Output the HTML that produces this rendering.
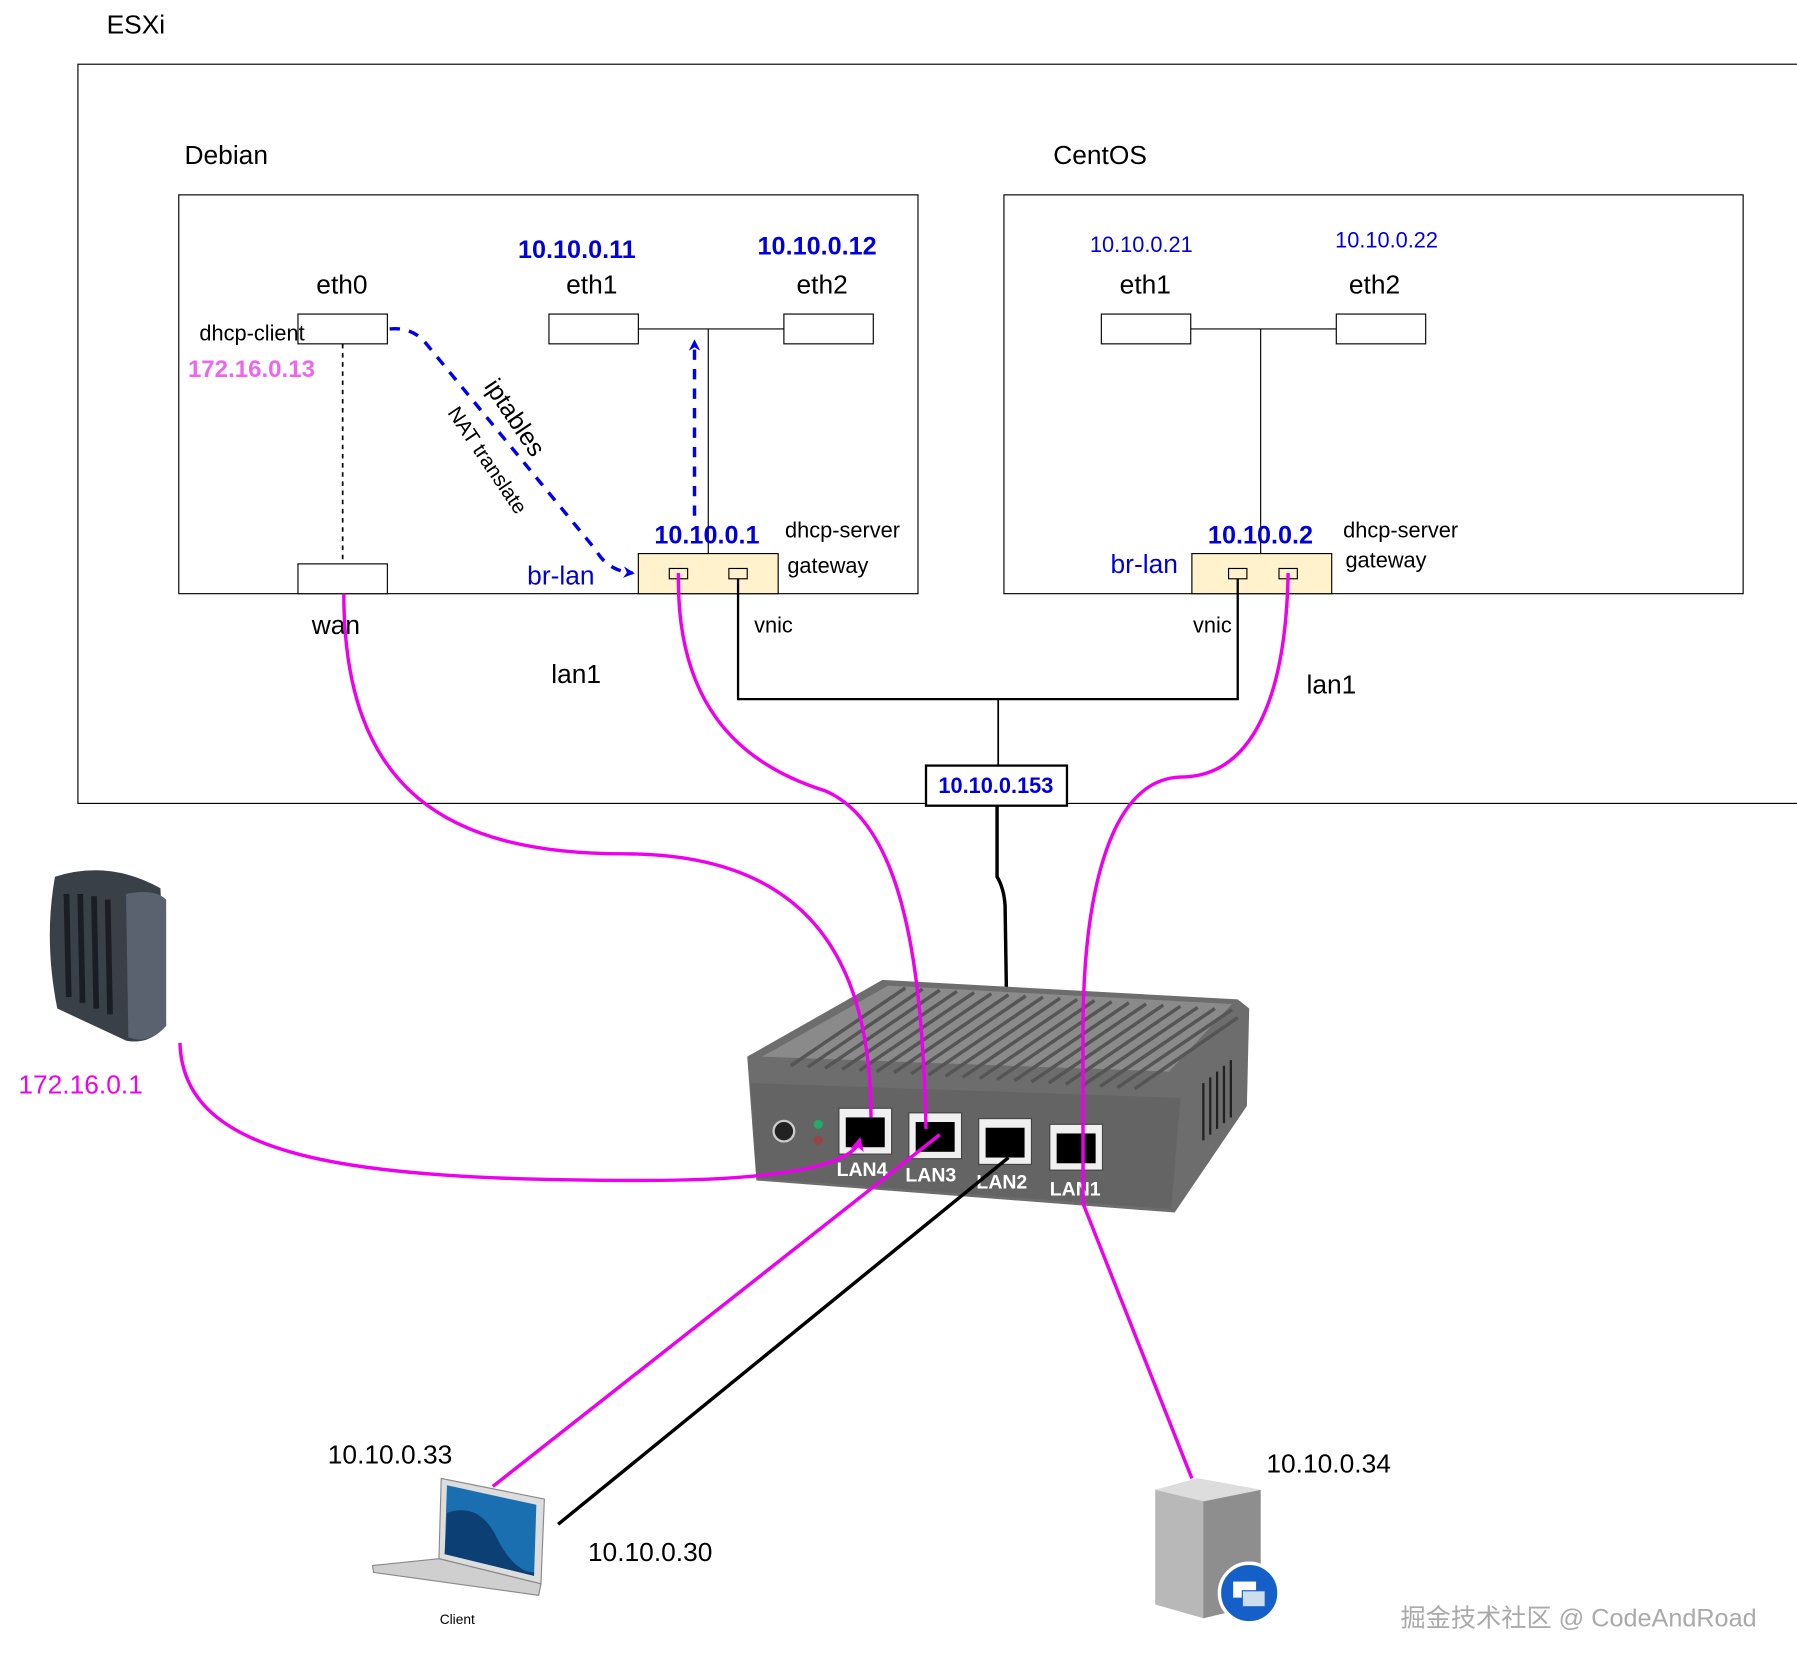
<!DOCTYPE html>
<html><head><meta charset="utf-8"><style>html,body{margin:0;padding:0;background:#fff}svg{display:block}</style></head><body>
<svg width="1797" height="1671" viewBox="0 0 1568 1458" xmlns="http://www.w3.org/2000/svg" font-family="Liberation Sans, Noto Sans CJK SC, sans-serif">
<defs>
<marker id="ab" markerWidth="10" markerHeight="10" refX="8" refY="5" orient="auto" markerUnits="userSpaceOnUse"><path d="M0,0 L10,5 L0,10 L3,5z" fill="#0000ee"/></marker>
<marker id="am" markerWidth="12" markerHeight="12" refX="9" refY="6" orient="auto" markerUnits="userSpaceOnUse"><path d="M0,0 L12,6 L0,12 L3,6z" fill="#ee00ee"/></marker>
</defs>
<text x="93" y="29" font-size="23">ESXi</text>
<rect x="68" y="56" width="1520" height="645" fill="none" stroke="#000" stroke-width="1"/>
<text x="161" y="143" font-size="23">Debian</text>
<text x="919" y="143" font-size="23">CentOS</text>
<rect x="156" y="170" width="645" height="348" fill="none" stroke="#000"/>
<rect x="876" y="170" width="645" height="348" fill="none" stroke="#000"/>
<!-- Debian -->
<text x="452" y="225" font-size="22" font-weight="bold" fill="#0000dd">10.10.0.11</text>
<text x="661" y="222" font-size="22" font-weight="bold" fill="#0000dd">10.10.0.12</text>
<text x="276" y="256" font-size="23">eth0</text>
<text x="494" y="256" font-size="23">eth1</text>
<text x="695" y="256" font-size="23">eth2</text>
<rect x="260" y="274" width="78" height="26" fill="#fff" stroke="#000"/>
<text x="174" y="297" font-size="19">dhcp-client</text>
<text x="164" y="329" font-size="21" font-weight="bold" fill="#ee66ee">172.16.0.13</text>
<rect x="479" y="274" width="78" height="26" fill="#fff" stroke="#000"/>
<rect x="684" y="274" width="78" height="26" fill="#fff" stroke="#000"/>
<line x1="557" y1="287" x2="684" y2="287" stroke="#000"/>
<line x1="618" y1="287" x2="618" y2="483" stroke="#000"/>
<line x1="299" y1="300" x2="299" y2="492" stroke="#000" stroke-dasharray="4,4" stroke-width="1.5"/>
<rect x="260" y="492" width="78" height="26" fill="#fff" stroke="#000"/>
<text x="272" y="553" font-size="23">wan</text>
<rect x="557" y="483" width="122" height="35" fill="#fff2cc" stroke="#000"/>
<rect x="584" y="496" width="16" height="9" fill="none" stroke="#000"/>
<rect x="636" y="496" width="16" height="9" fill="none" stroke="#000"/>
<text x="571" y="474" font-size="22" font-weight="bold" fill="#0000dd">10.10.0.1</text>
<text x="685" y="469" font-size="19">dhcp-server</text>
<text x="687" y="500" font-size="19">gateway</text>
<text x="460" y="510" font-size="23" fill="#0000dd">br-lan</text>
<text x="658" y="552" font-size="19">vnic</text>
<text x="481" y="596" font-size="23">lan1</text>
<path d="M340,287 Q360,285 372,300 L520,480 Q530,498 552,500" fill="none" stroke="#0000ee" stroke-width="3" stroke-dasharray="9,8" marker-end="url(#ab)"/>
<line x1="606" y1="450" x2="606" y2="298" stroke="#0000ee" stroke-width="3" stroke-dasharray="9,8" marker-end="url(#ab)"/>
<text transform="translate(422,337) rotate(56)" font-size="22">iptables</text>
<text transform="translate(390,360) rotate(56)" font-size="18">NAT translate</text>
<!-- CentOS -->
<text x="951" y="220" font-size="19" fill="#0000dd">10.10.0.21</text>
<text x="1165" y="216" font-size="19" fill="#0000dd">10.10.0.22</text>
<text x="977" y="256" font-size="23">eth1</text>
<text x="1177" y="256" font-size="23">eth2</text>
<rect x="961" y="274" width="78" height="26" fill="#fff" stroke="#000"/>
<rect x="1166" y="274" width="78" height="26" fill="#fff" stroke="#000"/>
<line x1="1039" y1="287" x2="1166" y2="287" stroke="#000"/>
<line x1="1100" y1="287" x2="1100" y2="483" stroke="#000"/>
<rect x="1040" y="483" width="122" height="35" fill="#fff2cc" stroke="#000"/>
<rect x="1072" y="496" width="16" height="9" fill="none" stroke="#000"/>
<rect x="1116" y="496" width="16" height="9" fill="none" stroke="#000"/>
<text x="1054" y="474" font-size="22" font-weight="bold" fill="#0000dd">10.10.0.2</text>
<text x="1172" y="469" font-size="19">dhcp-server</text>
<text x="1174" y="495" font-size="19">gateway</text>
<text x="969" y="500" font-size="23" fill="#0000dd">br-lan</text>
<text x="1041" y="552" font-size="19">vnic</text>
<text x="1140" y="605" font-size="23">lan1</text>
<!-- vnic links -->
<polyline points="644,505 644,610 1080,610 1080,505" fill="none" stroke="#000" stroke-width="2"/>
<line x1="871" y1="610" x2="871" y2="668" stroke="#000" stroke-width="1.5"/>
<path d="M870,703 L870,765 Q876,775 877,790 L880,985" fill="none" stroke="#000" stroke-width="3"/>
<!-- router -->
<g>
<polygon points="652,922 770,855 1080,872 1090,880 1088,965 1025,1058 660,1030" fill="#6d6d6d"/>
<polygon points="665,922 775,860 1075,876 1020,935" fill="#8a8a8a"/>
<g stroke="#555" stroke-width="3">
<line x1="690" y1="930" x2="790" y2="862"/><line x1="705" y1="931" x2="805" y2="863"/><line x1="720" y1="932" x2="820" y2="864"/><line x1="735" y1="933" x2="835" y2="865"/><line x1="750" y1="934" x2="850" y2="866"/><line x1="765" y1="935" x2="865" y2="867"/><line x1="780" y1="936" x2="880" y2="868"/><line x1="795" y1="937" x2="895" y2="869"/><line x1="810" y1="938" x2="910" y2="870"/><line x1="825" y1="939" x2="925" y2="871"/><line x1="840" y1="940" x2="940" y2="872"/><line x1="855" y1="941" x2="955" y2="873"/><line x1="870" y1="942" x2="970" y2="874"/><line x1="885" y1="943" x2="985" y2="875"/><line x1="900" y1="944" x2="1000" y2="876"/><line x1="915" y1="945" x2="1015" y2="877"/><line x1="930" y1="946" x2="1030" y2="878"/><line x1="945" y1="947" x2="1045" y2="879"/><line x1="960" y1="948" x2="1060" y2="880"/><line x1="975" y1="949" x2="1075" y2="881"/><line x1="990" y1="950" x2="1080" y2="888"/>
</g>
<polygon points="655,945 1030,958 1022,1055 660,1028" fill="#646464"/>
<g stroke="#222" stroke-width="2"><line x1="1050" y1="945" x2="1050" y2="995"/><line x1="1056" y1="940" x2="1056" y2="990"/><line x1="1062" y1="935" x2="1062" y2="985"/><line x1="1068" y1="930" x2="1068" y2="980"/><line x1="1074" y1="925" x2="1074" y2="975"/></g>
<circle cx="684" cy="987" r="9" fill="#222" stroke="#ccc" stroke-width="2"/>
<circle cx="714" cy="981" r="4" fill="#2a6"/><circle cx="714" cy="995" r="4" fill="#944"/>
<g fill="#f0f0f0" stroke="#444"><rect x="732" y="967" width="46" height="40"/><rect x="793" y="971" width="46" height="40"/><rect x="854" y="976" width="46" height="40"/><rect x="916" y="981" width="46" height="40"/></g>
<g fill="#000"><rect x="738" y="975" width="34" height="26"/><rect x="799" y="979" width="34" height="26"/><rect x="860" y="984" width="34" height="26"/><rect x="922" y="989" width="34" height="26"/></g>
<g fill="#fff" font-weight="bold" font-size="17"><text x="730" y="1026">LAN4</text><text x="790" y="1031">LAN3</text><text x="852" y="1037">LAN2</text><text x="916" y="1043">LAN1</text></g>
</g>
<!-- ip box -->
<rect x="808" y="668" width="123" height="35" fill="#fff" stroke="#000" stroke-width="2"/>
<text x="869" y="692" font-size="19" font-weight="bold" fill="#0000dd" text-anchor="middle">10.10.0.153</text>
<!-- magenta -->
<g fill="none" stroke="#ee00ee" stroke-width="3">
<path d="M300,518 C300,690 390,745 545,745 C690,745 760,820 760,975"/>
<path d="M592,500 C590,610 640,665 720,690 C790,720 805,850 808,985"/>
<path d="M1124,500 C1122,610 1092,678 1030,678 C965,680 945,790 945,900 L945,1050 L1040,1290"/>
<path d="M157,910 C160,1010 300,1030 560,1030 C690,1030 745,1015 750,995" marker-end="url(#am)"/>
<path d="M430,1297 L820,990"/>
</g>
<line x1="487" y1="1330" x2="880" y2="1010" stroke="#000" stroke-width="3"/>
<!-- modem -->
<g>
<path d="M48,765 Q95,750 140,775 L145,895 Q130,912 110,908 L50,880 Q38,820 48,765z" fill="#3a4048"/>
<path d="M110,780 Q135,775 145,785 L145,895 Q130,912 112,905z" fill="#5a6270"/>
<g stroke="#1a1e24" stroke-width="5"><line x1="58" y1="780" x2="60" y2="870"/><line x1="70" y1="780" x2="72" y2="875"/><line x1="82" y1="782" x2="84" y2="880"/><line x1="94" y1="785" x2="96" y2="885"/></g>
</g>
<text x="16" y="954" font-size="23" fill="#ee00ee">172.16.0.1</text>
<!-- laptop -->
<g>
<polygon points="385,1290 475,1308 472,1382 383,1360" fill="#ddd" stroke="#888"/>
<polygon points="390,1296 468,1313 466,1375 388,1356" fill="#1a6fb0"/>
<path d="M390,1320 Q420,1310 435,1345 Q450,1372 466,1372 L466,1375 L388,1356z" fill="#0c3f73"/>
<polygon points="383,1360 472,1382 470,1392 326,1372 325,1366" fill="#cfcfcf" stroke="#888"/>
</g>
<text x="399" y="1417" font-size="12" text-anchor="middle">Client</text>
<text x="286" y="1277" font-size="23">10.10.0.33</text>
<text x="513" y="1362" font-size="23">10.10.0.30</text>
<!-- server -->
<g>
<polygon points="1008,1300 1045,1290 1100,1300 1100,1400 1050,1412 1008,1400" fill="#b8b8b8"/>
<polygon points="1050,1310 1100,1300 1100,1400 1050,1412" fill="#8e8e8e"/>
<polygon points="1008,1300 1045,1290 1100,1300 1050,1310" fill="#ddd"/>
<circle cx="1090" cy="1390" r="26" fill="#1560c8" stroke="#fff" stroke-width="3"/>
<rect x="1076" y="1380" width="20" height="14" fill="#fff"/><rect x="1084" y="1388" width="20" height="14" fill="#cde" stroke="#1560c8"/>
</g>
<text x="1105" y="1285" font-size="23">10.10.0.34</text>
<text x="1222" y="1419" font-size="22" fill="#aaa">掘金技术社区 @ CodeAndRoad</text>
</svg>
</body></html>
